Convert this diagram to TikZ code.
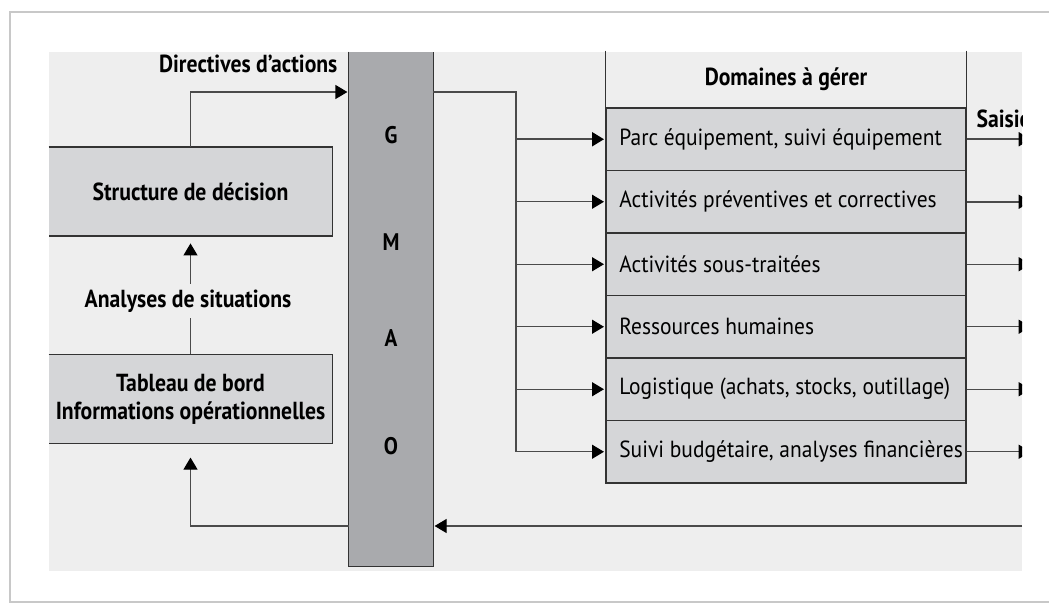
\documentclass[tikz,border=0pt]{standalone}
\usepackage{fontspec}
\setmainfont{PT Sans}[FakeStretch=0.92, BoldFeatures={FakeStretch=0.88}]
\usetikzlibrary{arrows.meta,calc}
\definecolor{panel}{HTML}{EEEEEE}
\definecolor{boxfill}{HTML}{D5D6D8}
\definecolor{gmaofill}{HTML}{A9AAAD}
\definecolor{linec}{HTML}{4A4A4A}
\definecolor{borderc}{HTML}{333333}
\definecolor{framec}{HTML}{C8C8C8}
\tikzset{
  boxnode/.style={fill=boxfill, draw=none, inner sep=0pt, minimum width=212.25pt, minimum height=66.5pt, align=center, font=\fontsize{18.5}{21}\selectfont\bfseries},
  rownode/.style={fill=boxfill, draw=borderc, line width=1pt, inner xsep=7pt, inner ysep=0pt, minimum width=270pt, minimum height=46.875pt, font=\fontsize{17.5}{20}\selectfont},
  boldlbl/.style={font=\fontsize{18.5}{21}\selectfont\bfseries, inner sep=1pt},
  letter/.style={font=\fontsize{18}{20}\selectfont\bfseries},
  conn/.style={draw=linec, line width=0.9pt},
  arr/.style={conn, -{Triangle[length=9pt, width=10.5pt, color=black]}, shorten >=1pt},
}
\begin{document}
\begin{tikzpicture}[x=0.75pt, y=-0.75pt]
\useasboundingbox (0,0) rectangle (1049,606);
\clip (0,0) rectangle (1049,606);
% outer frame
\draw[framec, line width=1.6pt] (10,12) rectangle (1080,602);
% panel
\fill[panel] (49,52) rectangle (1022,571);

% GMAO column
\node[fill=gmaofill, inner sep=0pt, minimum width=63pt, minimum height=385.5pt] (gmao) at (391,309) {};
\draw[borderc, line width=1pt] (gmao.north west) -- (gmao.south west) -- (gmao.south east) -- (gmao.north east);
\node[letter] (g) at (391,135) {G};
\node[letter] (m) at (391,242) {M};
\node[letter] (a) at (391,338) {A};
\node[letter] (o) at (391,446) {O};

% left boxes
\node[boxnode] (struct) at (190.5,191.5) {Structure de décision};
\draw[borderc, line width=1pt] (struct.north west) -- (struct.north east) -- (struct.south east) -- (struct.south west);
\node[boxnode] (tab) at (190.5,399) {Tableau de bord\\Informations opérationnelles};
\draw[borderc, line width=1pt] (tab.north west) -- (tab.north east) -- (tab.south east) -- (tab.south west);

% domaines header
\node[inner sep=0pt, minimum width=270pt, minimum height=42pt, font=\fontsize{18.5}{21}\selectfont\bfseries] (dom) at (786,79) {Domaines à gérer};
\draw[borderc, line width=1pt] (dom.north west) -- (dom.south west);
\draw[borderc, line width=1pt] (dom.north east) -- (dom.south east);

% rows
\node[rownode] (r1) at (786,139.25) {\makebox[256pt][l]{\hspace*{3pt}Parc équipement, suivi équipement}};
\node[rownode] (r2) at (786,201.75) {\makebox[256pt][l]{\hspace*{3pt}Activités préventives et correctives}};
\node[rownode] (r3) at (786,264.25) {\makebox[256pt][l]{\hspace*{3pt}Activités sous-traitées}};
\node[rownode] (r4) at (786,326.75) {\makebox[256pt][l]{\hspace*{3pt}Ressources humaines}};
\node[rownode] (r5) at (786,389.25) {\makebox[256pt][l]{\hspace*{3pt}Logistique (achats, stocks, outillage)}};
\node[rownode] (r6) at (786,451.75) {\makebox[256pt][l]{\hspace*{3pt}Suivi budgétaire, analyses financières}};

% labels
\node[boldlbl, anchor=east] (dir) at (339,64) {Directives d’actions};
\coordinate (dirc) at (190.5,92);
\draw[arr] (struct.north) -- (dirc) -- (dirc -| gmao.west);

\draw[arr, shorten >=5.5pt] (tab.north) -- (struct.south);
\node[boldlbl, fill=panel, inner ysep=4pt] (ana) at (188,301) {Analyses de situations};

% return loop
\coordinate (rin) at (1022,526);
\draw[arr] (rin) -- (rin -| gmao.east);
\coordinate (lcorner) at (190.5,526);
\draw[arr, shorten >=10.5pt] (lcorner -| gmao.west) -- (lcorner) -- (tab.south);

% distribution bus
\coordinate (bus) at (516,92);
\draw[conn] (bus -| gmao.east) -- (bus) -- (bus |- r6.west);
\draw[arr, line width=1.6pt] (bus |- r1.west) -- (r1.west);
\draw[arr] (bus |- r2.west) -- (r2.west);
\draw[arr] (bus |- r3.west) -- (r3.west);
\draw[arr] (bus |- r4.west) -- (r4.west);
\draw[arr] (bus |- r5.west) -- (r5.west);
\draw[arr] (bus |- r6.west) -- (r6.west);

% outputs, clipped at panel edge
\begin{scope}
\clip (49,52) rectangle (1022,571);
\node[boldlbl, anchor=west] (saisie) at (975,119) {Saisie};
\coordinate (o1) at (1032,0);
\draw[arr, line width=1.4pt] (r1.east) -- (r1.east -| o1);
\draw[arr, line width=1.2pt] (r2.east) -- (r2.east -| o1);
\draw[arr] (r3.east) -- (r3.east -| o1);
\draw[arr] (r4.east) -- (r4.east -| o1);
\draw[arr] (r5.east) -- (r5.east -| o1);
\draw[arr] (r6.east) -- (r6.east -| o1);
\end{scope}
\end{tikzpicture}
\end{document}
